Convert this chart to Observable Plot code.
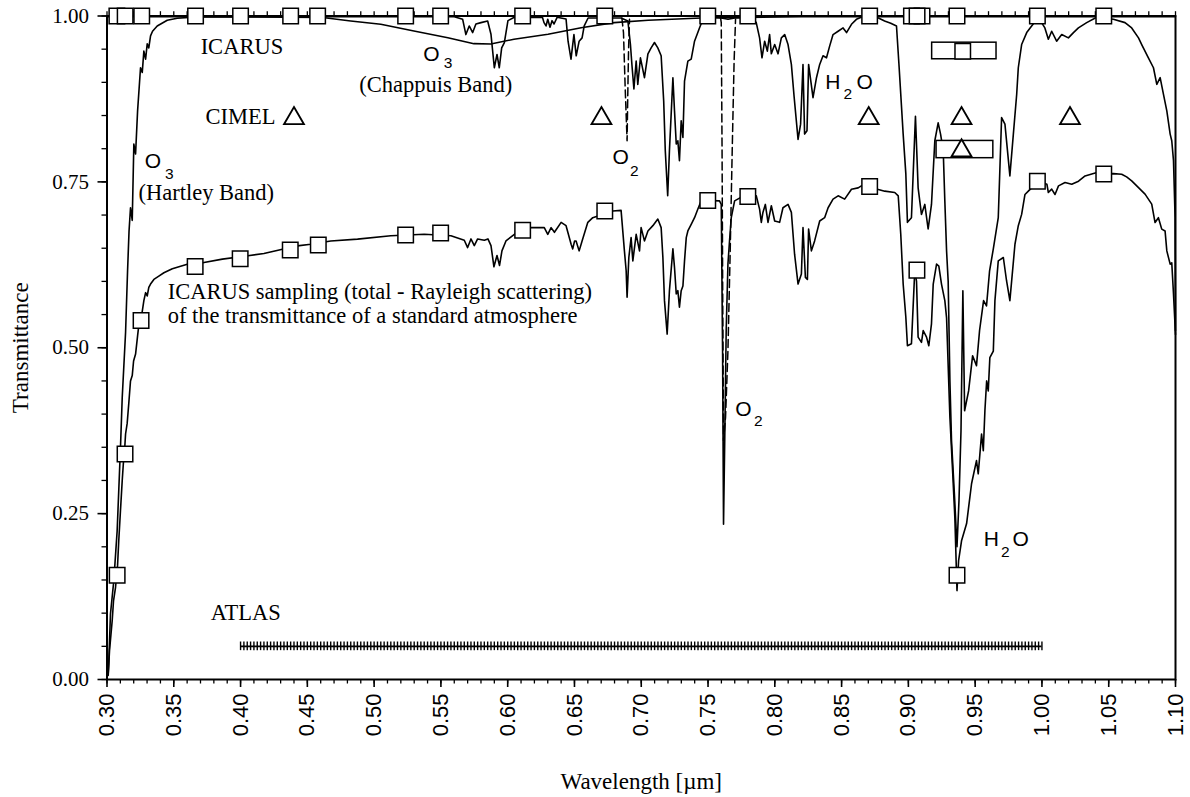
<!DOCTYPE html>
<html><head><meta charset="utf-8">
<script src="https://cdn.jsdelivr.net/npm/d3@7"></script>
<script src="https://cdn.jsdelivr.net/npm/@observablehq/plot@0.6"></script>
<style>html,body{margin:0;padding:0;background:#fff;} #chart svg{display:block;}</style>
</head><body><div id="chart"></div>
<script>
// ---------- data (wavelength in µm, transmittance) ----------
const o3Curve = [[0.3009,0.009],[0.3013,0.024],[0.3026,0.099],[0.3051,0.149],[0.3076,0.224],[0.3101,0.350],[0.3114,0.425],[0.3139,0.523],[0.3154,0.616],[0.3165,0.676],[0.3176,0.711],[0.3189,0.692],[0.3201,0.807],[0.3214,0.792],[0.3229,0.857],[0.3251,0.922],[0.3264,0.915],[0.3276,0.947],[0.3289,0.935],[0.3301,0.958],[0.3313,0.952],[0.3326,0.970],[0.3341,0.977],[0.3376,0.985],[0.3451,0.9935],[0.3526,0.9965],[0.370,0.999],[0.460,0.998],[0.4825,0.9925],[0.505,0.9875],[0.5298,0.9774],[0.5552,0.9673],[0.5747,0.9583],[0.5874,0.9578],[0.6047,0.965],[0.6302,0.9724],[0.655,0.9824],[0.6797,0.990],[0.7052,0.9935],[0.745,0.997],[0.82,0.999],[1.10,0.999]];

const h2oCurve = [[0.300,0.999],[0.560,0.999],[0.5663,0.995],[0.5687,0.972],[0.5712,0.985],[0.5738,0.975],[0.5762,0.988],[0.580,0.990],[0.585,0.9925],[0.5875,0.9724],[0.590,0.922],[0.592,0.942],[0.5937,0.922],[0.5955,0.952],[0.5975,0.960],[0.6002,0.993],[0.605,0.998],[0.626,0.998],[0.6272,0.99],[0.6287,0.985],[0.630,0.995],[0.6317,0.983],[0.6332,0.993],[0.6347,0.988],[0.637,0.998],[0.6437,0.9955],[0.6452,0.962],[0.6474,0.935],[0.6496,0.972],[0.6513,0.940],[0.6535,0.962],[0.6557,0.967],[0.6573,0.985],[0.6602,0.997],[0.6849,0.997],[0.690,0.9925],[0.6919,0.957],[0.693,0.927],[0.6945,0.890],[0.6962,0.932],[0.6974,0.897],[0.6994,0.937],[0.7024,0.907],[0.705,0.943],[0.7074,0.952],[0.7099,0.960],[0.7124,0.952],[0.7149,0.940],[0.7168,0.872],[0.718,0.797],[0.7198,0.729],[0.7211,0.797],[0.7237,0.907],[0.7249,0.857],[0.7262,0.807],[0.7274,0.812],[0.7286,0.782],[0.7299,0.842],[0.7312,0.817],[0.7324,0.902],[0.7349,0.932],[0.7374,0.935],[0.7399,0.962],[0.7436,0.982],[0.7462,0.995],[0.750,0.999],[0.760,0.997],[0.765,0.995],[0.770,0.997],[0.7825,0.998],[0.7861,0.990],[0.7886,0.967],[0.7904,0.937],[0.7924,0.962],[0.7944,0.947],[0.7961,0.972],[0.7974,0.943],[0.7999,0.957],[0.8024,0.943],[0.8049,0.967],[0.8074,0.972],[0.8099,0.957],[0.8124,0.927],[0.8144,0.8795],[0.8174,0.814],[0.8193,0.837],[0.8211,0.927],[0.8223,0.822],[0.8241,0.827],[0.8253,0.927],[0.8286,0.877],[0.8312,0.907],[0.8336,0.927],[0.8361,0.940],[0.8387,0.937],[0.8411,0.955],[0.8436,0.972],[0.8474,0.977],[0.8511,0.982],[0.8537,0.975],[0.8574,0.9875],[0.8611,0.995],[0.8656,0.999],[0.8776,0.997],[0.8822,0.9925],[0.8868,0.989],[0.8911,0.985],[0.8931,0.922],[0.8961,0.822],[0.8981,0.762],[0.8993,0.689],[0.9023,0.696],[0.9053,0.849],[0.9073,0.741],[0.9098,0.701],[0.9123,0.716],[0.9148,0.679],[0.9173,0.716],[0.9198,0.812],[0.9223,0.839],[0.9241,0.822],[0.9261,0.797],[0.9273,0.721],[0.9286,0.646],[0.9298,0.60],[0.9311,0.45],[0.9323,0.36],[0.9347,0.27],[0.9364,0.20],[0.9379,0.27],[0.9394,0.375],[0.9408,0.586],[0.9421,0.405],[0.9451,0.435],[0.9481,0.488],[0.951,0.473],[0.9533,0.526],[0.9563,0.571],[0.9585,0.563],[0.9608,0.616],[0.9636,0.649],[0.9673,0.696],[0.9698,0.847],[0.9723,0.837],[0.976,0.759],[0.9786,0.822],[0.9811,0.882],[0.9823,0.922],[0.9848,0.957],[0.9886,0.975],[0.9923,0.985],[0.9973,0.998],[1.0022,0.982],[1.0048,0.965],[1.0073,0.977],[1.011,0.962],[1.0148,0.972],[1.0198,0.967],[1.0236,0.975],[1.0273,0.982],[1.0335,0.990],[1.041,0.998],[1.0535,0.995],[1.0622,0.990],[1.0672,0.982],[1.0723,0.967],[1.0747,0.957],[1.0797,0.937],[1.0835,0.922],[1.086,0.897],[1.0885,0.907],[1.091,0.882],[1.0935,0.857],[1.096,0.822],[1.0972,0.812],[1.0985,0.782],[1.0997,0.696],[1.100,0.526]];

const totalCurve = [[0.3009,0.006],[0.3019,0.044],[0.3039,0.089],[0.3049,0.119],[0.3064,0.139],[0.3079,0.172],[0.3088,0.209],[0.3101,0.255],[0.3114,0.300],[0.3124,0.330],[0.3133,0.350],[0.3139,0.370],[0.3151,0.386],[0.3163,0.416],[0.3176,0.450],[0.3189,0.458],[0.3199,0.480],[0.3214,0.4905],[0.3229,0.518],[0.3244,0.544],[0.3259,0.548],[0.3276,0.571],[0.3289,0.583],[0.3301,0.578],[0.3313,0.591],[0.3326,0.596],[0.3351,0.603],[0.3388,0.608],[0.3426,0.613],[0.3489,0.619],[0.3551,0.623],[0.3601,0.626],[0.3716,0.628],[0.3864,0.6336],[0.4055,0.6386],[0.4175,0.642],[0.4313,0.6486],[0.4426,0.6536],[0.4525,0.656],[0.4675,0.661],[0.4876,0.6637],[0.5125,0.6687],[0.5375,0.671],[0.5575,0.6687],[0.5675,0.662],[0.570,0.651],[0.5725,0.664],[0.575,0.654],[0.5775,0.664],[0.5825,0.662],[0.5852,0.664],[0.5875,0.654],[0.5897,0.622],[0.592,0.639],[0.5939,0.624],[0.5957,0.646],[0.5987,0.661],[0.605,0.671],[0.6175,0.681],[0.6274,0.681],[0.630,0.671],[0.6325,0.681],[0.635,0.674],[0.640,0.689],[0.6437,0.684],[0.6475,0.656],[0.6487,0.649],[0.6501,0.661],[0.6512,0.661],[0.6535,0.646],[0.6557,0.661],[0.660,0.689],[0.6637,0.696],[0.6787,0.706],[0.6849,0.707],[0.6874,0.646],[0.6887,0.616],[0.6894,0.576],[0.6907,0.636],[0.6924,0.666],[0.6937,0.631],[0.6962,0.671],[0.6987,0.646],[0.6999,0.681],[0.7024,0.661],[0.705,0.676],[0.7087,0.684],[0.7124,0.694],[0.7149,0.681],[0.7162,0.636],[0.7174,0.571],[0.7194,0.5206],[0.7211,0.586],[0.7237,0.649],[0.7249,0.621],[0.7262,0.581],[0.7274,0.586],[0.7286,0.561],[0.7299,0.586],[0.7312,0.593],[0.7324,0.631],[0.7337,0.666],[0.7349,0.676],[0.7374,0.686],[0.7399,0.696],[0.7424,0.709],[0.7449,0.7214],[0.750,0.722],[0.7586,0.7214],[0.7599,0.716],[0.7609,0.495],[0.7616,0.234],[0.7625,0.36],[0.7636,0.526],[0.7649,0.626],[0.7661,0.661],[0.7674,0.696],[0.7699,0.7214],[0.7749,0.727],[0.7861,0.729],[0.7886,0.709],[0.7899,0.689],[0.7911,0.704],[0.7929,0.716],[0.7949,0.689],[0.7974,0.714],[0.7999,0.691],[0.8036,0.689],[0.8061,0.711],[0.8099,0.716],[0.8124,0.704],[0.8148,0.641],[0.8174,0.596],[0.8199,0.611],[0.8211,0.681],[0.8229,0.606],[0.8244,0.603],[0.8253,0.679],[0.8274,0.646],[0.8298,0.661],[0.8336,0.691],[0.8373,0.696],[0.8399,0.711],[0.8436,0.724],[0.8474,0.729],[0.8523,0.724],[0.8574,0.739],[0.8624,0.741],[0.8648,0.744],[0.871,0.745],[0.8768,0.739],[0.8823,0.736],[0.8898,0.734],[0.8924,0.729],[0.8943,0.671],[0.8961,0.596],[0.8981,0.546],[0.8993,0.503],[0.9023,0.506],[0.9048,0.617],[0.9061,0.600],[0.9073,0.516],[0.9098,0.508],[0.9111,0.526],[0.9136,0.516],[0.9153,0.503],[0.9173,0.536],[0.9186,0.596],[0.9211,0.626],[0.9228,0.623],[0.9248,0.596],[0.9273,0.571],[0.9286,0.545],[0.9311,0.395],[0.9331,0.315],[0.9348,0.244],[0.9364,0.134],[0.9376,0.179],[0.9398,0.209],[0.9436,0.235],[0.9473,0.295],[0.951,0.33],[0.9523,0.31],[0.9548,0.37],[0.9561,0.345],[0.9573,0.405],[0.9586,0.45],[0.9598,0.435],[0.961,0.485],[0.9636,0.495],[0.9648,0.571],[0.9673,0.631],[0.9711,0.636],[0.9735,0.601],[0.976,0.571],[0.9798,0.656],[0.9823,0.684],[0.9848,0.701],[0.9873,0.731],[0.9898,0.736],[0.9975,0.751],[1.0037,0.7465],[1.0048,0.734],[1.0073,0.739],[1.0098,0.731],[1.0124,0.744],[1.0173,0.749],[1.0223,0.7465],[1.0274,0.751],[1.0323,0.759],[1.0411,0.764],[1.0463,0.762],[1.0535,0.7625],[1.0597,0.7616],[1.0634,0.7575],[1.0672,0.7515],[1.0723,0.7414],[1.0772,0.7315],[1.0822,0.7164],[1.0847,0.6887],[1.0872,0.696],[1.0897,0.6788],[1.0922,0.676],[1.0935,0.646],[1.096,0.626],[1.0972,0.628],[1.0985,0.581],[1.1000,0.52]];

const o2BandB = [[0.6855,0.997],[0.6867,0.975],[0.6880,0.89],[0.6894,0.812],[0.6899,0.88],[0.6905,0.95],[0.6912,0.995]];
const o2BandA = [[0.7594,0.997],[0.7599,0.99],[0.7605,0.80],[0.7610,0.571],[0.7616,0.36],[0.7631,0.395],[0.7649,0.495],[0.7666,0.646],[0.7681,0.797],[0.7695,0.93],[0.7706,0.995]];

// ICARUS channels (top row, T = 1) and ICARUS sampling of the total transmittance
const icarusTopWl = [0.3074,0.3136,0.326,0.3663,0.400,0.4375,0.4577,0.5236,0.5498,0.6112,0.6727,0.7498,0.7798,0.871,0.9023,0.9102,0.9065,0.9364,0.9966,1.0463];
const icarusSampleWl = [0.3076,0.3135,0.3255,0.366,0.3997,0.4372,0.4582,0.5236,0.5498,0.6112,0.6727,0.7498,0.7798,0.871,0.9064,0.9364,0.9966,1.0463];
const icarusSampleT  = [0.157,0.340,0.541,0.6225,0.634,0.6475,0.6547,0.670,0.673,0.677,0.706,0.722,0.728,0.743,0.617,0.157,0.751,0.762];

// wide-band boxes around 0.94 µm
const boxX1 = [0.9178,0.9211];
const boxX2 = [0.9660,0.9636];
const boxY1 = [0.9348,0.7857];
const boxY2 = [0.9598,0.8117];
const boxSquareWl = [0.9407];
const boxSquareT = [0.947];

// CIMEL channels
const cimelWl = [0.440,0.6702,0.8703,0.9398,1.021,0.9398];
const cimelT  = [0.8456,0.8456,0.8456,0.8456,0.8456,0.797];

// ATLAS sampling (nm) at T = 0.05
const atlasLevel = 0.05;
const atlasNm = [
400,402.5,405,407.5,410,412.5,415,417.5,420,422.5,425,427.5,430,432.5,435,437.5,440,442.5,445,447.5,450,452.5,455,457.5,460,462.5,465,467.5,470,472.5,475,477.5,480,482.5,485,487.5,490,492.5,495,497.5,
500,502.5,505,507.5,510,512.5,515,517.5,520,522.5,525,527.5,530,532.5,535,537.5,540,542.5,545,547.5,550,552.5,555,557.5,560,562.5,565,567.5,570,572.5,575,577.5,580,582.5,585,587.5,590,592.5,595,597.5,
600,602.5,605,607.5,610,612.5,615,617.5,620,622.5,625,627.5,630,632.5,635,637.5,640,642.5,645,647.5,650,652.5,655,657.5,660,662.5,665,667.5,670,672.5,675,677.5,680,682.5,685,687.5,690,692.5,695,697.5,
700,702.5,705,707.5,710,712.5,715,717.5,720,722.5,725,727.5,730,732.5,735,737.5,740,742.5,745,747.5,750,752.5,755,757.5,760,762.5,765,767.5,770,772.5,775,777.5,780,782.5,785,787.5,790,792.5,795,797.5,
800,802.5,805,807.5,810,812.5,815,817.5,820,822.5,825,827.5,830,832.5,835,837.5,840,842.5,845,847.5,850,852.5,855,857.5,860,862.5,865,867.5,870,872.5,875,877.5,880,882.5,885,887.5,890,892.5,895,897.5,
900,902.5,905,907.5,910,912.5,915,917.5,920,922.5,925,927.5,930,932.5,935,937.5,940,942.5,945,947.5,950,952.5,955,957.5,960,962.5,965,967.5,970,972.5,975,977.5,980,982.5,985,987.5,990,992.5,995,997.5,
1000];

// tick labels
const xTicks = [0.30,0.35,0.40,0.45,0.50,0.55,0.60,0.65,0.70,0.75,0.80,0.85,0.90,0.95,1.00,1.05,1.10];
const yTicks = [0,0.25,0.5,0.75,1];

// annotations
const serifLabels = [
  {x:0.3701, y:0.9432, t:"ICARUS"},
  {x:0.3738, y:0.8373, t:"CIMEL"},
  {x:0.3236, y:0.7224, t:"(Hartley Band)"},
  {x:0.4888, y:0.8855, t:"(Chappuis Band)"},
  {x:0.3454, y:0.5733, t:"ICARUS sampling (total - Rayleigh scattering)"},
  {x:0.3454, y:0.538,  t:"of the transmittance of a standard atmosphere"},
  {x:0.3776, y:0.0904, t:"ATLAS"}
];
const gasLetters = [
  {x:0.3282, y:0.7715, t:"O"}, {x:0.5368, y:0.9317, t:"O"}, {x:0.6785, y:0.7767, t:"O"},
  {x:0.8378, y:0.8896, t:"H"}, {x:0.8612, y:0.8896, t:"O"}, {x:0.7704, y:0.3976, t:"O"},
  {x:0.9565, y:0.2018, t:"H"}, {x:0.9779, y:0.2018, t:"O"}
];
const gasSubscripts = [
  {x:0.3435, y:0.754, t:"3"}, {x:0.5521, y:0.9215, t:"3"}, {x:0.6915, y:0.759, t:"2"},
  {x:0.8515, y:0.8745, t:"2"}, {x:0.7845, y:0.3825, t:"2"}, {x:0.9694, y:0.184, t:"2"}
];

// ---------- chart ----------
const SERIF = "Liberation Serif, 'Times New Roman', serif";
const SANS = "Liberation Sans, Arial, Helvetica, sans-serif";
const X = d => d[0], Y = d => d[1];
const idx = a => a.map((_, i) => i);
const xMinor = d3.range(30, 111).map(v => v / 100);
const yMinor = d3.range(0, 21).map(v => v / 20);

const chart = Plot.plot({
  width: 1190, height: 797,
  marginLeft: 106.5, marginRight: 15, marginTop: 15.5, marginBottom: 118,
  x: {domain: [0.30, 1.10], label: null},
  y: {domain: [0, 1], label: null},
  style: {background: "white", color: "black", fontFamily: SERIF, fontSize: "20px", overflow: "visible"},
  marks: [
    Plot.line(o3Curve, {x: X, y: Y, stroke: "black", strokeWidth: 1.6}),
    Plot.line(h2oCurve, {x: X, y: Y, stroke: "black", strokeWidth: 1.6}),
    Plot.line(totalCurve, {x: X, y: Y, stroke: "black", strokeWidth: 1.6}),
    Plot.line(o2BandB, {x: X, y: Y, stroke: "black", strokeWidth: 1.5, strokeDasharray: "8,4"}),
    Plot.line(o2BandA, {x: X, y: Y, stroke: "black", strokeWidth: 1.5, strokeDasharray: "8,4"}),
    Plot.ruleY([atlasLevel], {y: d => d, x1: () => atlasNm[0] / 1000, x2: () => atlasNm[atlasNm.length - 1] / 1000, stroke: "black", strokeWidth: 1.6}),
    Plot.ruleX(atlasNm, {x: d => d / 1000, y1: () => atlasLevel - 0.0065, y2: () => atlasLevel + 0.0065, stroke: "black", strokeWidth: 1.4}),
    Plot.frame({stroke: "black", strokeWidth: 2}),
    Plot.ruleX(xMinor, {x: d => d, y1: () => 1, y2: () => 1.0065, stroke: "black", strokeWidth: 1.3}),
    Plot.axisX({ticks: xMinor, tickSize: 4.5, tickFormat: () => "", strokeWidth: 1.3}),
    Plot.axisX({ticks: xTicks, tickSize: 8, tickPadding: 6, tickRotate: -90, tickFormat: d3.format(".2f"), fontFamily: SANS, fontSize: 22, strokeWidth: 1.6}),
    Plot.axisY({ticks: yMinor, tickSize: 5, tickFormat: () => "", strokeWidth: 1.3}),
    Plot.axisY({ticks: yTicks, tickSize: 9, tickPadding: 9, tickFormat: d3.format(".2f"), fontFamily: SERIF, fontSize: 21, strokeWidth: 1.6}),
    Plot.rect(idx(boxX1), {x1: i => boxX1[i], x2: i => boxX2[i], y1: i => boxY1[i], y2: i => boxY2[i], fill: "white", stroke: "black", strokeWidth: 1.5}),
    Plot.dot(icarusSampleWl, {x: d => d, y: (d, i) => icarusSampleT[i], symbol: "square", r: 8.75, fill: "white", stroke: "black", strokeWidth: 1.5}),
    Plot.dot(icarusTopWl, {x: d => d, y: () => 1, symbol: "square", r: 8.75, fill: "white", stroke: "black", strokeWidth: 1.5}),
    Plot.dot(boxSquareWl, {x: d => d, y: (d, i) => boxSquareT[i], symbol: "square", r: 8.75, fill: "white", stroke: "black", strokeWidth: 1.5}),
    Plot.dot(cimelWl, {x: d => d, y: (d, i) => cimelT[i], symbol: "triangle", r: 7.4, fill: "none", stroke: "black", strokeWidth: 1.8}),
    Plot.text(serifLabels, {x: "x", y: "y", text: "t", textAnchor: "start", lineAnchor: "bottom", fontFamily: SERIF, fontSize: 22.5, fill: "black"}),
    Plot.text(gasLetters, {x: "x", y: "y", text: "t", textAnchor: "start", lineAnchor: "bottom", fontFamily: SANS, fontSize: 21, fill: "black"}),
    Plot.text(gasSubscripts, {x: "x", y: "y", text: "t", textAnchor: "start", lineAnchor: "bottom", fontFamily: SANS, fontSize: 15.5, fill: "black"}),
    Plot.text(["Transmittance"], {text: d => d, frameAnchor: "left", dx: -79.5, rotate: -90, textAnchor: "middle", lineAnchor: "bottom", fontFamily: SERIF, fontSize: 23, fill: "black"}),
    Plot.text(["Wavelength [µm]"], {text: d => d, frameAnchor: "bottom", dy: 109, textAnchor: "middle", lineAnchor: "bottom", fontFamily: SERIF, fontSize: 23, fill: "black"})
  ]
});
document.getElementById("chart").appendChild(chart);
</script>
</body></html>
